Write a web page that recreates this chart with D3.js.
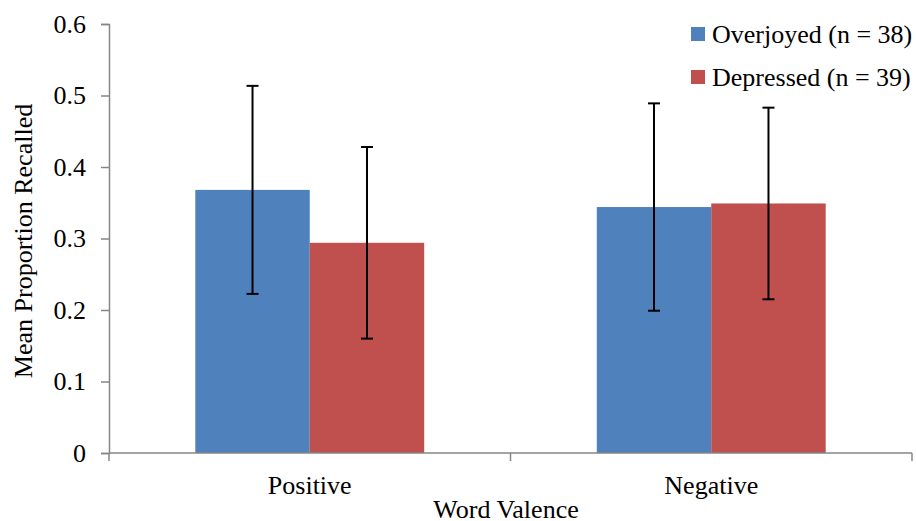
<!DOCTYPE html>
<html><head><meta charset="utf-8">
<script src="https://cdn.jsdelivr.net/npm/d3@7"></script>
<style>body{margin:0;background:#fff}svg{display:block}</style>
</head><body><svg id="c" width="916" height="521"></svg>
<script>
const categories = ["Positive", "Negative"];
const seriesNames = ["Overjoyed (n = 38)", "Depressed (n = 39)"];
const overjoyedMeans = [0.368, 0.344];
const depressedMeans = [0.294, 0.349];
const overjoyedErr = [0.1455, 0.145];
const depressedErr = [0.134, 0.134];
const yTicks = [0, 0.1, 0.2, 0.3, 0.4, 0.5, 0.6];
const colors = ["#4F81BD", "#C0504D"];

const FONT = "Liberation Serif";
const svg = d3.select("#c");
const L = 109, R = 912, T = 24, B = 453;
const fs = 26;
const y = d3.scaleLinear().domain([0, 0.6]).range([B, T]);
const x0 = d3.scaleBand().domain(categories).range([L, R]).padding(0);
const x1 = d3.scaleBand().domain(seriesNames).range([0, x0.bandwidth()]).paddingInner(0).paddingOuter(0.754);

const data = categories.map((c, i) => ({
  cat: c,
  vals: [
    {s: seriesNames[0], v: overjoyedMeans[i], e: overjoyedErr[i], col: colors[0]},
    {s: seriesNames[1], v: depressedMeans[i], e: depressedErr[i], col: colors[1]}
  ]
}));

const g = svg.append("g");
const groups = g.selectAll("g.grp").data(data).join("g").attr("transform", d => `translate(${x0(d.cat)},0)`);
groups.selectAll("rect").data(d => d.vals).join("rect")
  .attr("x", d => x1(d.s)).attr("width", x1.bandwidth())
  .attr("y", d => y(d.v)).attr("height", d => y(0) - y(d.v))
  .attr("fill", d => d.col);

const yAxis = d3.axisLeft(y).tickValues(yTicks).tickSize(8).tickPadding(15)
  .tickFormat(d => d === 0 ? "0" : d3.format(".1f")(d));
const ya = svg.append("g").attr("transform", `translate(${L},0)`).call(yAxis);
ya.attr("font-family", FONT).attr("font-size", fs);
ya.selectAll("path,line").attr("stroke", "#868686").attr("stroke-width", 1.5);
ya.selectAll("text").attr("fill", "#000").attr("font-family", FONT).attr("font-size", fs);

const xAxisG = svg.append("g").attr("transform", `translate(0,${B})`);
xAxisG.append("line").attr("x1", L).attr("x2", R).attr("stroke", "#868686").attr("stroke-width", 1.5);
const bounds = [L, x0("Negative"), R];
xAxisG.selectAll("line.tk").data(bounds).join("line").attr("class", "tk")
  .attr("x1", d => d).attr("x2", d => d).attr("y1", 0).attr("y2", 8)
  .attr("stroke", "#868686").attr("stroke-width", 1.5);
xAxisG.selectAll("text").data(categories).join("text")
  .attr("x", d => x0(d) + x0.bandwidth() / 2).attr("y", 41)
  .attr("text-anchor", "middle").attr("font-family", FONT).attr("font-size", fs).text(d => d);

groups.each(function(d) {
  const gg = d3.select(this);
  d.vals.forEach(v => {
    const cx = x1(v.s) + x1.bandwidth() / 2;
    const top = y(v.v + v.e), bot = y(v.v - v.e);
    gg.append("line").attr("x1", cx).attr("x2", cx).attr("y1", top).attr("y2", bot).attr("stroke", "#000").attr("stroke-width", 2);
    [top, bot].forEach(yy => gg.append("line").attr("x1", cx - 6).attr("x2", cx + 6).attr("y1", yy).attr("y2", yy).attr("stroke", "#000").attr("stroke-width", 2));
  });
});

svg.append("text").attr("x", 506).attr("y", 518).attr("text-anchor", "middle")
  .attr("font-family", FONT).attr("font-size", fs).text("Word Valence");
svg.append("text").attr("transform", "translate(32,241) rotate(-90)").attr("text-anchor", "middle")
  .attr("font-family", FONT).attr("font-size", fs).text("Mean Proportion Recalled");

const leg = svg.append("g");
seriesNames.forEach((s, i) => {
  const yy = 27 + i * 43;
  leg.append("rect").attr("x", 691).attr("y", yy).attr("width", 14).attr("height", 14).attr("fill", colors[i]);
  leg.append("text").attr("x", 712).attr("y", yy + 16).attr("font-family", FONT).attr("font-size", fs).text(s);
});
</script></body></html>
